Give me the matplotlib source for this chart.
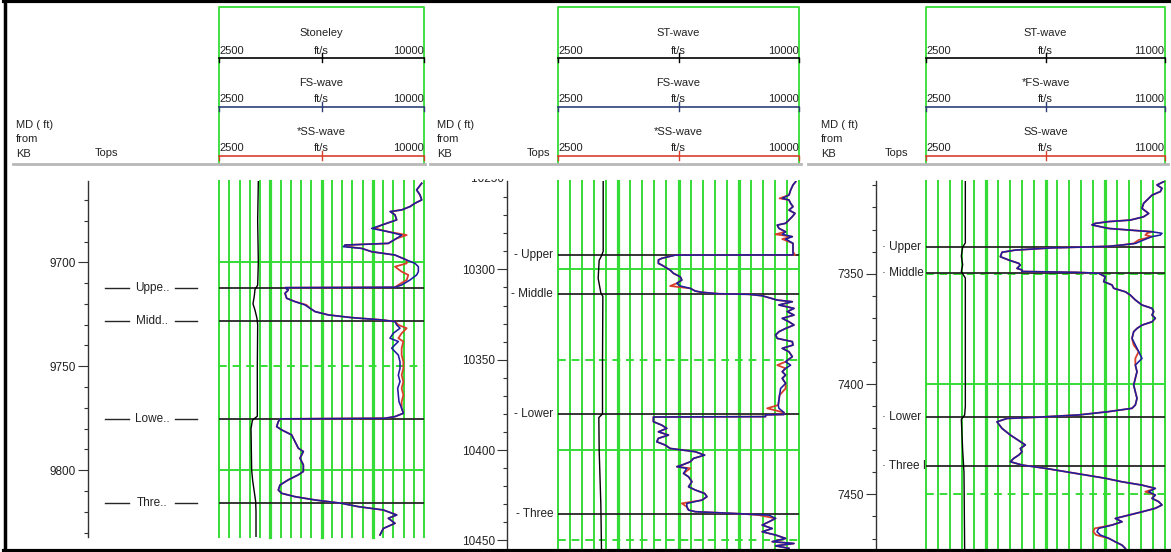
import numpy as np
import matplotlib
matplotlib.use("Agg")
import matplotlib.pyplot as plt
from matplotlib.ticker import MultipleLocator

plt.rcParams["font.family"] = ["Liberation Sans", "DejaVu Sans"]

W, H = 1171, 552

# ── well 1 ────────────────────────────────────────────────────────────────────
P1_DEPTH = [9662.0, 9665.2, 9667.6, 9670.0, 9671.6, 9673.2, 9674.8, 9675.6, 9677.2, 9679.6,
            9682.1, 9683.7, 9685.3, 9686.9, 9688.5, 9690.9, 9691.7, 9692.5, 9693.3, 9694.9,
            9696.5, 9698.9, 9700.5, 9702.1, 9704.5, 9706.1, 9708.5, 9710.9, 9712.0, 9712.2,
            9713.3, 9714.9, 9717.3, 9718.9, 9720.5, 9722.1, 9723.7, 9725.3, 9726.6, 9727.7,
            9728.5, 9730.1, 9731.7, 9734.1, 9736.5, 9738.1, 9741.3, 9744.6, 9747.8, 9751.0,
            9754.2, 9757.4, 9760.6, 9763.8, 9767.0, 9770.2, 9772.6, 9774.2, 9775.0, 9775.3,
            9776.6, 9779.0, 9780.6, 9783.0, 9786.2, 9789.4, 9791.0, 9794.2, 9797.4, 9800.6,
            9802.2, 9804.6, 9807.1, 9809.5, 9811.1, 9812.7, 9814.3, 9815.9, 9817.5, 9819.1,
            9821.5, 9823.1, 9825.5, 9828.0, 9831.1]
P1_FS = [9915, 9730, 9854, 9915, 9671, 9488, 9183, 8756, 8939, 9000,
         8451, 8085, 8695, 9183, 9000, 8695, 7110, 7049, 7719, 8085,
         8939, 9366, 9671, 9793, 9793, 9730, 9488, 9183, 8939, 4915,
         5037, 4915, 4976, 5280, 5646, 5829, 6012, 6500, 7354, 8451,
         8939, 9000, 9122, 8878, 8756, 9061, 8817, 9061, 9122, 9122,
         9061, 9122, 9037, 9061, 9085, 9183, 9244, 8939, 8573, 4732,
         4671, 4610, 4793, 5158, 5280, 5402, 5585, 5463, 5585, 5585,
         5402, 5037, 4732, 4671, 4793, 5280, 6012, 6988, 7597, 8512,
         9000, 8695, 8939, 8512, 8390]
P1_SS = [9915, 9730, 9854, 9915, 9671, 9488, 9183, 8780, 8939, 9000,
         8451, 8200, 8695, 9366, 9000, 8695, 7110, 7200, 7719, 8085,
         8939, 9366, 9366, 8939, 9183, 9427, 9366, 9061, 8939, 4915,
         5037, 4915, 4976, 5280, 5700, 5829, 6012, 6500, 7354, 8451,
         8939, 9061, 9366, 9183, 9061, 9244, 9183, 9183, 9244, 9244,
         9183, 9244, 9183, 9244, 9183, 9183, 9244, 8939, 8573, 4732,
         4671, 4610, 4793, 5158, 5280, 5402, 5585, 5463, 5585, 5585,
         5402, 5037, 4732, 4671, 4793, 5280, 6012, 6988, 7597, 8512,
         9000, 8695, 8939, 8512, 8390]
P1_ST_DEPTH = [9661, 9680, 9700, 9711, 9713, 9716, 9720, 9723, 9727, 9730,
               9750, 9774, 9776, 9780, 9800, 9805, 9815, 9820, 9832]
P1_ST = [3939, 3915, 3939, 3915, 3817, 3793, 3744, 3817, 3890, 3915,
         3902, 3902, 3720, 3671, 3695, 3732, 3841, 3854, 3854]
P1_TOPS = [9712.2, 9728.0, 9775.3, 9815.9]
P1_TOP_NAMES = ["Uppe..", "Midd..", "Lowe..", "Thre.."]
P1_CURVES = ["Stoneley", "FS-wave", "*SS-wave"]

# ── well 2 ────────────────────────────────────────────────────────────────────
P2_DEPTH = [10251.5, 10253.3, 10256.1, 10258.9, 10260.7, 10261.6, 10263.5, 10265.3, 10267.2, 10269.0,
            10270.8, 10272.7, 10274.5, 10275.5, 10277.3, 10279.2, 10280.6, 10281.9, 10283.2, 10285.6,
            10287.5, 10290.2, 10292.0, 10292.1, 10293.9, 10294.8, 10296.7, 10297.6, 10300.4, 10302.2,
            10304.1, 10305.9, 10307.7, 10309.2, 10310.5, 10312.0, 10312.7, 10313.5, 10313.8, 10314.6,
            10317.0, 10317.9, 10319.7, 10321.6, 10323.4, 10325.3, 10327.1, 10329.0, 10330.8, 10332.7,
            10334.5, 10336.3, 10338.2, 10340.0, 10341.9, 10343.7, 10345.6, 10348.3, 10351.1, 10353.0,
            10354.8, 10356.6, 10358.5, 10360.3, 10363.1, 10365.9, 10369.6, 10372.3, 10375.1, 10376.9,
            10379.2, 10380.3, 10380.5, 10381.5, 10381.7, 10384.3, 10386.2, 10388.0, 10389.9, 10391.7,
            10393.5, 10395.4, 10397.2, 10399.1, 10400.9, 10402.8, 10404.6, 10406.5, 10408.3, 10409.2,
            10410.1, 10412.9, 10414.8, 10417.5, 10420.3, 10422.1, 10424.0, 10425.8, 10427.7, 10429.5,
            10431.4, 10433.2, 10434.1, 10435.1, 10435.4, 10436.0, 10437.8, 10439.7, 10441.5, 10443.4,
            10445.2, 10447.0, 10448.9, 10450.7, 10451.7, 10453.0, 10454.4]
P2_FS = [9896, 9813, 9740, 9688, 9479, 9688, 9740, 9813, 9688, 9875,
         9792, 9688, 9583, 9323, 9375, 9583, 9479, 9792, 9583, 9813,
         9813, 9813, 9813, 6146, 5729, 5625, 5625, 5729, 5990, 6094,
         6302, 6354, 6198, 6302, 6615, 6771, 6979, 7500, 8438, 8854,
         9323, 9792, 9375, 9844, 9635, 9844, 9479, 9688, 9844, 9583,
         9375, 9271, 9323, 9792, 9813, 9479, 9688, 9792, 9583, 9740,
         9583, 9479, 9583, 9479, 9583, 9427, 9396, 9375, 9354, 9375,
         9531, 9531, 8958, 8958, 5469, 5469, 5729, 5885, 5625, 5938,
         5625, 5573, 5833, 5990, 6771, 7063, 6719, 6615, 6354, 6198,
         6510, 6406, 6563, 6667, 6563, 6771, 7063, 7135, 6979, 6510,
         6510, 6563, 6771, 8000, 8333, 9063, 9271, 9063, 8854, 9167,
         8854, 9271, 9583, 9167, 9844, 9271, 9688]
P2_SS = [9896, 9813, 9740, 9688, 9396, 9688, 9740, 9813, 9688, 9875,
         9792, 9688, 9583, 9323, 9375, 9583, 9271, 9792, 9479, 9813,
         9813, 9813, 9875, 6146, 5729, 5625, 5625, 5729, 5990, 6094,
         6302, 6354, 6198, 5990, 6615, 6771, 6979, 7500, 8438, 8854,
         9323, 9792, 9375, 9844, 9635, 9844, 9479, 9688, 9844, 9583,
         9375, 9271, 9323, 9792, 9813, 9479, 9688, 9792, 9583, 9323,
         9583, 9479, 9583, 9479, 9583, 9583, 9396, 9375, 9354, 9010,
         9531, 9531, 8958, 8958, 5469, 5469, 5729, 5885, 5625, 5938,
         5625, 5573, 5833, 5990, 6771, 7063, 6719, 6615, 6354, 6198,
         6615, 6406, 6563, 6667, 6563, 6771, 7063, 7135, 6979, 6354,
         6510, 6563, 6771, 8000, 8333, 8750, 9271, 9063, 8854, 9167,
         8854, 9271, 9583, 9167, 9844, 9271, 9688]
P2_ST_DEPTH = [10251, 10290, 10292.5, 10295, 10305, 10313, 10315,
               10350, 10380, 10382, 10400, 10430, 10456]
P2_ST = [3906, 3906, 3854, 3781, 3750, 3833, 3896,
         3885, 3885, 3771, 3781, 3833, 3854]
P2_TOPS = [10292.1, 10313.8, 10380.3, 10435.4]
P2_TOP_NAMES = ["- Upper", "- Middle", "- Lower", "- Three"]
P2_CURVES = ["ST-wave", "FS-wave", "*SS-wave"]

# ── well 3 ────────────────────────────────────────────────────────────────────
P3_DEPTH = [7308.3, 7309.8, 7311.3, 7312.8, 7314.4, 7315.9, 7318.1, 7320.4, 7322.7, 7324.2,
            7325.7, 7326.4, 7327.2, 7327.9, 7329.5, 7330.2, 7331.0, 7331.7, 7332.5, 7333.2,
            7334.7, 7336.3, 7337.0, 7337.6, 7337.9, 7338.3, 7339.3, 7340.3, 7342.3, 7343.8,
            7345.3, 7346.1, 7347.6, 7348.3, 7349.0, 7349.4, 7349.8, 7351.4, 7353.6, 7355.1,
            7356.6, 7358.2, 7359.7, 7361.9, 7364.2, 7365.7, 7367.2, 7368.7, 7370.2, 7371.8,
            7373.3, 7374.8, 7376.3, 7379.3, 7382.3, 7385.3, 7388.4, 7391.4, 7394.4, 7397.4,
            7400.5, 7403.5, 7406.5, 7409.5, 7411.0, 7412.5, 7414.0, 7415.0, 7415.6, 7417.1,
            7420.1, 7423.1, 7426.1, 7427.6, 7429.2, 7430.7, 7432.2, 7433.7, 7435.2, 7436.7,
            7438.2, 7439.7, 7441.2, 7442.7, 7444.3, 7445.8, 7447.3, 7448.8, 7450.3, 7451.8,
            7453.3, 7454.8, 7456.3, 7457.9, 7459.4, 7460.9, 7462.4, 7463.9, 7465.4, 7466.9,
            7468.4, 7469.9, 7471.5, 7473.0, 7474.5]
P3_FS = [10953, 10715, 10893, 10834, 10538, 10419, 10241, 10182, 10419, 10241,
         9767, 8997, 8522, 8404, 8997, 9708, 10538, 10893, 10834, 10538,
         10241, 9945, 9471, 8997, 8167, 6981, 5677, 5203, 5144, 5440,
         5796, 5855, 5736, 5914, 5914, 7870, 8641, 8878, 8819, 9115,
         9174, 9589, 9767, 9945, 10182, 10538, 10597, 10538, 10656, 10538,
         10182, 10004, 9886, 9827, 9945, 10063, 10182, 9945, 10004, 9945,
         9886, 9945, 10004, 9945, 9827, 8997, 7930, 6507, 5381, 5025,
         5203, 5499, 5855, 6033, 5855, 5914, 5796, 5618, 5499, 5914,
         6744, 7455, 8167, 8878, 9471, 10182, 10656, 10419, 10656, 10538,
         10775, 10893, 10656, 10182, 9708, 9234, 9471, 9115, 8641, 8582,
         8700, 8997, 9234, 9471, 9589]
P3_SS = [10953, 10715, 10893, 10834, 10538, 10419, 10241, 10182, 10419, 10241,
         9767, 8997, 8522, 8404, 8997, 9708, 10538, 10360, 10300, 10538,
         10063, 9886, 9471, 8997, 8167, 6981, 5677, 5203, 5144, 5440,
         5796, 5855, 5736, 5914, 5914, 7870, 8641, 8878, 8819, 9115,
         9174, 9589, 9767, 9945, 10182, 10538, 10597, 10538, 10656, 10538,
         10182, 10004, 9886, 9827, 9886, 10063, 9945, 9945, 10004, 9945,
         9886, 9945, 10004, 9945, 9827, 8997, 7930, 6507, 5381, 5025,
         5203, 5499, 5855, 6033, 5855, 5914, 5796, 5618, 5499, 5914,
         6744, 7455, 8167, 8878, 9471, 10182, 10656, 10300, 10656, 10538,
         10775, 10893, 10656, 10182, 9708, 9234, 9471, 9115, 8500, 8450,
         8550, 8997, 9234, 9471, 9589]
P3_ST_DEPTH = [7308, 7336, 7338, 7342, 7346, 7349, 7352, 7380,
               7410, 7414, 7416, 7430, 7440, 7476]
P3_ST = [3899, 3899, 3804, 3757, 3804, 3757, 3899, 3899,
         3899, 3875, 3757, 3804, 3851, 3875]
P3_TOPS = [7337.9, 7349.5, 7415.0, 7437.2]
P3_TOP_NAMES = ["\u00b7 Upper", "\u00b7 Middle", "\u00b7 Lower", "\u00b7 Three I"]
P3_CURVES = ["ST-wave", "*FS-wave", "SS-wave"]

SCALE_MIN = 2500
SCALE_MAX = [10000, 10000, 11000]

# colours
GREEN = "#36dc36"
BLUE = "#1d1d9e"
RED = "#d8402c"
NAVY = "#2e3f78"
TOPLINE = "#262626"
TXT = "#222222"

# layout (pixels): depth-axis x, track x0/x1, data bottom, depth at data top/bottom
LAYOUT = [
    dict(dx=88, tx0=219, tx1=424, ybot=537, dtop=9660.9, dbot=9832.1,
         md_x=16, tops_x=95, sep=(13, 425), tops_style="both"),
    dict(dx=507, tx0=558, tx1=799, ybot=550, dtop=10251.1, dbot=10455.3,
         md_x=437, tops_x=527, sep=(430, 801), tops_style="right"),
    dict(dx=876, tx0=926, tx1=1165, ybot=550, dtop=7308.0, dbot=7475.2,
         md_x=821, tops_x=885, sep=(808, 1168), tops_style="left"),
]
WELLS = [
    (P1_DEPTH, P1_FS, P1_SS, P1_ST_DEPTH, P1_ST, P1_TOPS, P1_TOP_NAMES, P1_CURVES),
    (P2_DEPTH, P2_FS, P2_SS, P2_ST_DEPTH, P2_ST, P2_TOPS, P2_TOP_NAMES, P2_CURVES),
    (P3_DEPTH, P3_FS, P3_SS, P3_ST_DEPTH, P3_ST, P3_TOPS, P3_TOP_NAMES, P3_CURVES),
]
YTOP = 181

fig = plt.figure(figsize=(W / 100, H / 100), dpi=100)
fig.patch.set_facecolor("white")


def px_axes(x0, y0, x1, y1):
    return fig.add_axes([x0 / W, 1 - y1 / H, (x1 - x0) / W, (y1 - y0) / H])


for i, (lay, well) in enumerate(zip(LAYOUT, WELLS)):
    depth, fs, ss, st_d, st_v, tops, top_names, _ = well
    vmax = SCALE_MAX[i]

    # ── track ──
    ax = px_axes(lay["tx0"], YTOP, lay["tx1"], lay["ybot"])
    ax.set_xlim(SCALE_MIN, vmax)
    ax.set_ylim(lay["dbot"], lay["dtop"])
    ax.axis("off")
    step = (vmax - SCALE_MIN) / 20
    for k in range(21):
        lw = 2.3 if (k % 5 == 0 and 0 < k < 20) else 1.4
        ax.axvline(SCALE_MIN + k * step, color=GREEN, lw=lw, zorder=1, clip_on=False)
    d0 = int(np.ceil(lay["dtop"] / 50.0) * 50)
    for d in range(d0, int(lay["dbot"]) + 1, 50):
        ls = "-" if d % 100 == 0 else (0, (4, 3))
        ax.axhline(d, color=GREEN, lw=1.4, ls=ls, zorder=1)
    for d in tops:
        ax.axhline(d, color=TOPLINE, lw=1.3, zorder=2)
    ax.plot(st_v, st_d, color="black", lw=1.0, zorder=3)
    ax.plot(ss, depth, color=RED, lw=1.3, zorder=4)
    ax.plot(fs, depth, color=BLUE, lw=1.15, zorder=5)

    # ── depth axis ──
    dax = px_axes(lay["dx"], YTOP, lay["dx"] + 1, lay["ybot"])
    dax.set_ylim(lay["dbot"], lay["dtop"])
    for s in ("top", "right", "bottom"):
        dax.spines[s].set_visible(False)
    dax.spines["left"].set_color("#333333")
    dax.spines["left"].set_linewidth(1.0)
    dax.set_xticks([])
    dax.patch.set_alpha(0)
    dax.yaxis.set_major_locator(MultipleLocator(50))
    dax.yaxis.set_minor_locator(MultipleLocator(10))
    dax.tick_params(axis="y", which="major", length=7, width=0.8, color="#333333",
                    labelsize=8.5, pad=1.5, labelcolor=TXT)
    dax.tick_params(axis="y", which="minor", length=2.8, width=0.8, color="#333333")
    if i == 1:
        # 10250 sits just above the data window; its label is half hidden by the header gap
        dax.text(0.0, 10250, "10250 ", transform=dax.get_yaxis_transform(),
                 ha="right", va="center", fontsize=8.5, color=TXT, clip_on=False)

    # ── tops column ──
    tax = px_axes(lay["dx"], YTOP, lay["tx0"], lay["ybot"])
    tax.set_xlim(lay["dx"], lay["tx0"])
    tax.set_ylim(lay["dbot"], lay["dtop"])
    tax.axis("off")
    for d, name in zip(tops, top_names):
        if lay["tops_style"] == "both":
            tax.text(152, d, name, ha="center", va="center", fontsize=8.5, color=TXT)
            tax.plot([105, 129], [d, d], color=TOPLINE, lw=1.0)
            tax.plot([175, 197], [d, d], color=TOPLINE, lw=1.0)
        elif lay["tops_style"] == "right":
            tax.text(lay["tx0"] - 5, d, name, ha="right", va="center", fontsize=8.5,
                     color=TXT)
        else:
            tax.text(lay["dx"] + 6, d, name, ha="left", va="center", fontsize=8.5,
                     color=TXT, clip_on=True)

# ── header / frame overlay in pixel units ──
ov = fig.add_axes([0, 0, 1, 1])
ov.set_xlim(0, W)
ov.set_ylim(H, 0)
ov.axis("off")

HEAD_ROWS = [(33, 51, 58, "black"), (83, 99, 107, NAVY), (132, 148, 156, RED)]
for i, (lay, well) in enumerate(zip(LAYOUT, WELLS)):
    x0, x1 = lay["tx0"], lay["tx1"]
    xc = 0.5 * (x0 + x1)
    curves = well[7]
    ov.plot([x0, x0, x1, x1], [164, 7, 7, 164], color=GREEN, lw=1.3)
    for (yn, yv, yl, col), name in zip(HEAD_ROWS, curves):
        ov.text(xc, yn, name, ha="center", va="center", fontsize=8, color=TXT)
        ov.text(x0 + 0.5, yv, f"{SCALE_MIN}", ha="left", va="center", fontsize=8, color=TXT)
        ov.text(xc, yv, "ft/s", ha="center", va="center", fontsize=8, color=TXT)
        ov.text(x1 - 0.5, yv, f"{SCALE_MAX[i]}", ha="right", va="center", fontsize=8,
                color=TXT)
        ov.plot([x0, x1], [yl, yl], color=col, lw=1.2)
        ov.plot([x0, x0], [yl, yl + 4], color=col, lw=1.0)
        ov.plot([x1, x1], [yl, yl + 4], color=col, lw=1.0)
        ov.plot([xc, xc], [yl - 5, yl + 4], color=col, lw=1.0)
    mx = lay["md_x"]
    ov.text(mx, 125, "MD ( ft)", ha="left", va="center", fontsize=8, color=TXT)
    ov.text(mx, 139, "from", ha="left", va="center", fontsize=8, color=TXT)
    ov.text(mx, 154, "KB", ha="left", va="center", fontsize=8, color=TXT)
    ov.text(lay["tops_x"], 153, "Tops", ha="left", va="center", fontsize=8, color=TXT)
    ov.plot(lay["sep"], [164, 164], color="#b8b8b8", lw=2.0)

# white strip between header and data on the second depth axis
ov.add_patch(plt.Rectangle((440, 166), 66, 12.5, facecolor="white", edgecolor="none",
                           zorder=10))

# outer frame
ov.plot([4, W], [1.2, 1.2], color="black", lw=3.0, clip_on=False)
ov.plot([5, 5], [0, H], color="black", lw=2.5, clip_on=False)
ov.plot([4, W], [550.5, 550.5], color="black", lw=3.0, clip_on=False)

fig.savefig("out.png", dpi=100, facecolor="white")
